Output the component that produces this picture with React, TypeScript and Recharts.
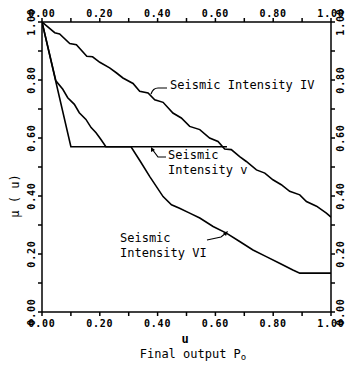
import { LineChart, Line, XAxis, YAxis } from 'recharts'

// membership curves (u = final output, mu = membership)
const u4 = [0, 0.044, 0.061, 0.096, 0.119, 0.155, 0.175, 0.2, 0.234, 0.257, 0.28, 0.315, 0.338, 0.367, 0.39, 0.419, 0.453, 0.482, 0.511, 0.546, 0.58, 0.609, 0.632, 0.655, 0.684, 0.707, 0.742, 0.771, 0.799, 0.828, 0.857, 0.892, 0.915, 0.95, 0.984, 1.0]
const mu4 = [1.0, 0.963, 0.959, 0.926, 0.922, 0.882, 0.88, 0.861, 0.842, 0.825, 0.807, 0.788, 0.761, 0.755, 0.732, 0.723, 0.686, 0.669, 0.64, 0.629, 0.6, 0.588, 0.562, 0.56, 0.536, 0.519, 0.49, 0.479, 0.456, 0.439, 0.416, 0.404, 0.381, 0.365, 0.341, 0.327]

const u5 = [0, 0.1, 0.64]
const mu5 = [1.0, 0.57, 0.57]

const u6 = [0, 0.048, 0.072, 0.089, 0.112, 0.129, 0.152, 0.17, 0.187, 0.204, 0.221, 0.308, 0.34, 0.373, 0.419, 0.448, 0.476, 0.511, 0.546, 0.592, 0.638, 0.684, 0.73, 0.776, 0.822, 0.868, 0.892, 1.0]
const mu6 = [1.0, 0.797, 0.768, 0.739, 0.716, 0.687, 0.664, 0.636, 0.618, 0.595, 0.57, 0.57, 0.52, 0.467, 0.398, 0.37, 0.358, 0.341, 0.324, 0.295, 0.272, 0.243, 0.214, 0.191, 0.168, 0.145, 0.134, 0.134]

const ticks = [0, 0.1, 0.2, 0.3, 0.4, 0.5, 0.6, 0.7, 0.8, 0.9, 1.0]
const tickLabels = ['0.00', '0.20', '0.40', '0.60', '0.80', '1.00']

const toRows = (us: number[], ms: number[]) => us.map((u, i) => ({ u, mu: ms[i] }))
const data4 = toRows(u4, mu4)
const data5 = toRows(u5, mu5)
const data6 = toRows(u6, mu6)

const mono = '"DejaVu Sans Mono", "Liberation Mono", monospace'

function tickText(v: number) {
  const i = Math.round(v * 10)
  return i % 2 === 0 ? tickLabels[i / 2] : ''
}

function XTick(props: any) {
  const { x, payload, top } = props
  const t = tickText(payload.value)
  if (!t) return <g />
  return (
    <text x={x} y={top ? 13 : 323} textAnchor="middle" dominantBaseline="central"
      fontFamily={mono} fontSize={10} fontWeight="bold" letterSpacing={0.8} fill="#000">
      {t}
    </text>
  )
}

function YTick(props: any) {
  const { y, payload, right } = props
  const t = tickText(payload.value)
  if (!t) return <g />
  const cx = right ? 340 : 31
  return (
    <text x={cx} y={y} transform={`rotate(-90 ${cx} ${y})`} textAnchor="middle" dominantBaseline="central"
      fontFamily={mono} fontSize={10} fontWeight="bold" letterSpacing={0.8} fill="#000">
      {t}
    </text>
  )
}

const axisStyle = { stroke: '#000', strokeWidth: 1.5 }

export default function App() {
  return (
    <div style={{ position: 'absolute', left: 0, top: 0, width: 350, height: 366, background: '#fff' }}>
      <LineChart width={350} height={366} margin={{ top: 0, right: 0, bottom: 0, left: 0 }}>
        <XAxis xAxisId="b" type="number" dataKey="u" domain={[0, 1]} ticks={ticks} allowDataOverflow
          height={54} tickSize={4} axisLine={axisStyle} tickLine={axisStyle} tick={(p: any) => <XTick {...p} />} />
        <XAxis xAxisId="t" orientation="top" type="number" dataKey="u" domain={[0, 1]} ticks={ticks} allowDataOverflow
          height={22} tickSize={4} axisLine={axisStyle} tickLine={axisStyle} tick={(p: any) => <XTick {...p} top />} />
        <YAxis yAxisId="l" type="number" dataKey="mu" domain={[0, 1]} ticks={ticks} allowDataOverflow
          width={42} tickSize={4} axisLine={axisStyle} tickLine={axisStyle} tick={(p: any) => <YTick {...p} />} />
        <YAxis yAxisId="r" orientation="right" type="number" dataKey="mu" domain={[0, 1]} ticks={ticks} allowDataOverflow
          width={19} tickSize={4} axisLine={axisStyle} tickLine={axisStyle} tick={(p: any) => <YTick {...p} right />} />
        <Line xAxisId="b" yAxisId="l" data={data4} dataKey="mu" type="linear" stroke="#000" strokeWidth={1.6}
          dot={false} isAnimationActive={false} />
        <Line xAxisId="b" yAxisId="l" data={data5} dataKey="mu" type="linear" stroke="#000" strokeWidth={1.6}
          dot={false} isAnimationActive={false} />
        <Line xAxisId="b" yAxisId="l" data={data6} dataKey="mu" type="linear" stroke="#000" strokeWidth={1.6}
          dot={false} isAnimationActive={false} />
      </LineChart>
      <svg width={350} height={366} style={{ position: 'absolute', left: 0, top: 0, pointerEvents: 'none' }}>
        <g fontFamily={mono} fontSize={12} fill="#000">
          <text x={170} y={85} dominantBaseline="central">Seismic Intensity IV</text>
          <text x={168} y={155} dominantBaseline="central">Seismic</text>
          <text x={168} y={170} dominantBaseline="central">Intensity v</text>
          <text x={120} y={238} dominantBaseline="central">Seismic</text>
          <text x={120} y={253} dominantBaseline="central">Intensity VI</text>
          <text x={15} y={196} transform="rotate(-90 15 196)" textAnchor="middle" dominantBaseline="central">μ ( u)</text>
          <text x={185} y={339} textAnchor="middle" dominantBaseline="central" fontWeight="bold">u</text>
          <text x={193} y={354} textAnchor="middle" dominantBaseline="central">
            Final output P<tspan fontSize={9} dy={3}>o</tspan>
          </text>
        </g>
        <g stroke="#000" strokeWidth={1.2} fill="none">
          <path d="M151,94 Q153,88 158,88 L167,88" />
          <path d="M152,149 L158,157 L166,157" />
          <path d="M207,240 L221,237 L226,233" />
        </g>
        <g fill="#000">
          <path d="M151,147 L155,150 L151,152 Z" />
          <path d="M228,231 L223,233 L226,236 Z" />
        </g>
      </svg>
    </div>
  )
}
